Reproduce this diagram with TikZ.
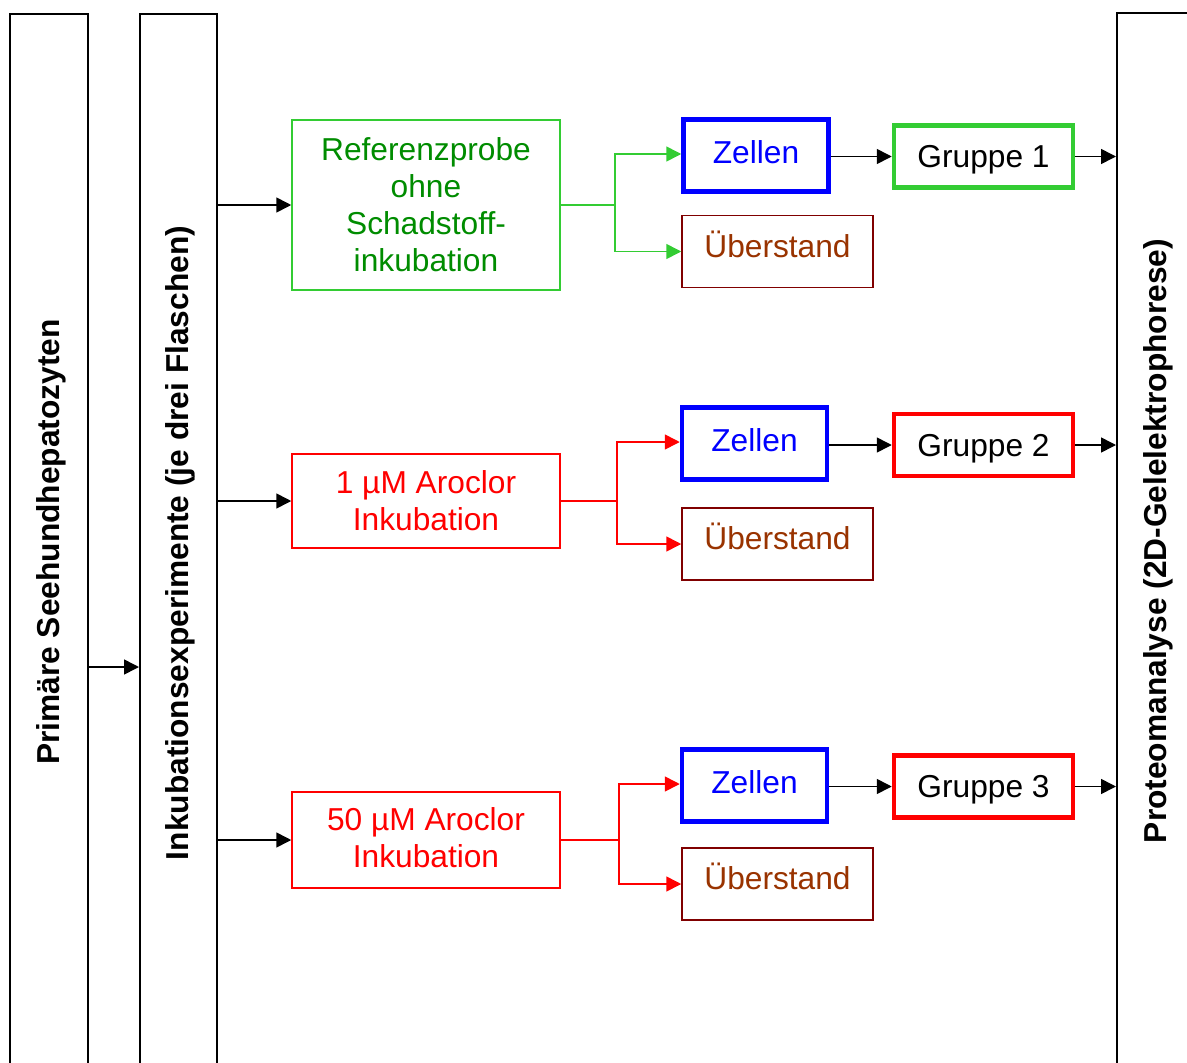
\documentclass[tikz,border=0pt]{standalone}
\usepackage{fontspec}
\setmainfont{Liberation Sans}
\usetikzlibrary{arrows.meta}
\definecolor{refgreen}{RGB}{0,140,0}
\definecolor{lightgreen}{RGB}{51,204,51}
\definecolor{brownish}{RGB}{153,51,0}
\definecolor{darkred}{RGB}{128,0,0}
\definecolor{pureblue}{RGB}{0,0,255}
\definecolor{purered}{RGB}{255,0,0}
\begin{document}
\begin{tikzpicture}[x=1pt,y=-1pt,
  font=\fontsize{31.7}{37}\selectfont,
  column/.style={draw, line width=2pt, rectangle, inner sep=0pt, anchor=north},
  coltext/.style={rotate=90, font=\fontsize{31.7}{37}\selectfont\bfseries},
  thinbox/.style={draw, line width=1.5pt, rectangle, inner sep=0pt, align=center},
  thickbox/.style={draw, line width=4.5pt, rectangle, inner sep=0pt, align=center},
  cellbox/.style={thickbox, draw=pureblue, text=pureblue, minimum width=145, minimum height=72, text depth=6pt},
  superbox/.style={thinbox, draw=darkred, text=brownish, minimum width=191, minimum height=72, text depth=15pt},
  groupbox/.style={thickbox, minimum width=179, minimum height=62, text depth=0pt},
  arr/.style={line width=1.6pt, -{Triangle[length=15pt,width=15pt]}},
  branch/.style={line width=1.6pt},
]
\useasboundingbox (0,0) rectangle (1187,1063);
\clip (0,0) rectangle (1187,1063);

% three tall columns, open at the lower edge
\node[column, minimum width=78, minimum height=1150] (c1) at (49,13) {};
\node[column, minimum width=77, minimum height=1150] (c2) at (178.5,13) {};
\node[column, minimum width=120, minimum height=1150] (c3) at (1177,12) {};
\node[coltext] (t1) at (51,542) {Primäre Seehundhepatozyten};
\node[coltext] (t2) at (180,543) {Inkubationsexperimente (je drei Flaschen)};
\node[coltext] (t3) at (1158,541) {Proteomanalyse (2D-Gelelektrophorese)};

\draw[arr] (c1.east |- 0,667) -- (c2.west |- 0,667);

% treatment boxes
\node[thinbox, draw=lightgreen, text=refgreen, minimum width=268, minimum height=170] (r1) at (426,205)
  {Referenzprobe\\ohne\\Schadstoff-\\inkubation};
\node[thinbox, draw=purered, text=purered, minimum width=268, minimum height=94] (r2) at (426,501)
  {1 µM Aroclor\\Inkubation};
\node[thinbox, draw=purered, text=purered, minimum width=268, minimum height=96, text depth=5pt] (r3) at (426,840)
  {50 µM Aroclor\\Inkubation};

% cell and supernatant fractions
\node[cellbox] (z1) at (756,155.5) {Zellen};
\node[cellbox] (z2) at (754.5,443.5) {Zellen};
\node[cellbox] (z3) at (754.5,785.5) {Zellen};
\node[superbox] (u1) at (777.5,251.5) {Überstand};
\node[superbox] (u2) at (777.5,544) {Überstand};
\node[superbox] (u3) at (777.5,884) {Überstand};

% groups
\node[groupbox, draw=lightgreen] (g1) at (983.5,156.5) {Gruppe 1};
\node[groupbox, draw=purered] (g2) at (983.5,445) {Gruppe 2};
\node[groupbox, draw=purered] (g3) at (983.5,786.5) {Gruppe 3};

% connectors from the incubation column
\draw[arr] (c2.east |- r1.west) -- (r1.west);
\draw[arr] (c2.east |- r2.west) -- (r2.west);
\draw[arr] (c2.east |- r3.west) -- (r3.west);

% splitting into cells and supernatant
\draw[branch, lightgreen] (r1.east) -- ++(54,0) coordinate (b1);
\draw[arr, lightgreen] (b1) |- ([yshift=1.5pt]z1.west);
\draw[arr, lightgreen] (b1) |- (u1.west);
\draw[branch, purered] (r2.east) -- ++(56,0) coordinate (b2);
\draw[arr, purered] (b2) |- ([yshift=1.5pt]z2.west);
\draw[arr, purered] (b2) |- (u2.west);
\draw[branch, purered] (r3.east) -- ++(58,0) coordinate (b3);
\draw[arr, purered] (b3) |- ([yshift=1.5pt]z3.west);
\draw[arr, purered] (b3) |- (u3.west);

% cells to groups, groups to proteome analysis
\draw[arr] (z1.east |- g1.west) -- (g1.west);
\draw[arr] (z2.east |- g2.west) -- (g2.west);
\draw[arr] (z3.east |- g3.west) -- (g3.west);
\draw[arr] (g1.east) -- (c3.west |- g1.east);
\draw[arr] (g2.east) -- (c3.west |- g2.east);
\draw[arr] (g3.east) -- (c3.west |- g3.east);
\end{tikzpicture}
\end{document}
